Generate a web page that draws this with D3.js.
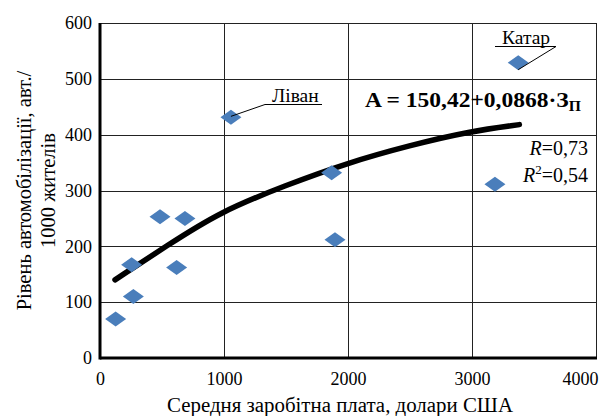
<!DOCTYPE html>
<html>
<head>
<meta charset="utf-8">
<script src="https://cdnjs.cloudflare.com/ajax/libs/d3/7.8.5/d3.min.js"></script>
<style>
  html, body { margin: 0; padding: 0; background: #fff; }
  svg { display: block; }
</style>
</head>
<body>
<svg id="chart" width="604" height="416"></svg>
<script>
// Average salary (USD) vs. cars per 1000 inhabitants
const salary  = [126, 269, 255, 484, 685, 618, 1056, 1868, 1895, 3185, 3373];
const carRate = [70, 110, 167, 253, 250, 162, 431, 332, 212, 311, 529];

// Named points
const namedPoints = [
  { name: "Ліван", idx: 6 },
  { name: "Катар", idx: 10 }
];

// Trend curve samples
const trendX = [121, 538, 968, 1505, 1989, 2500, 2984, 3382];
const trendY = [140, 201, 262, 310, 349, 381, 406, 418];

const xTicks = [0, 1000, 2000, 3000, 4000];
const yTicks = [0, 100, 200, 300, 400, 500, 600];

const xTitle = "Середня заробітна плата, долари США";
const yTitle = ["Рівень автомобілізації, авт./", "1000 жителів"];
const equationMain = "A = 150,42+0,0868·З";
const equationSub = "П";
const rText = "0,73";
const r2Text = "0,54";

const FONT = "'Liberation Serif', 'Times New Roman', serif";

const svg = d3.select("#chart");
const W = 604, H = 416;
const plot = { left: 100, right: 596, top: 23, bottom: 358 };

const x = d3.scaleLinear().domain([0, 4000]).range([plot.left, plot.right]);
const y = d3.scaleLinear().domain([0, 600]).range([plot.bottom, plot.top]);

svg.append("rect").attr("width", W).attr("height", H).attr("fill", "#fff");

// Gridlines
const grid = svg.append("g").attr("stroke", "#222").attr("stroke-width", 1);
grid.selectAll("line.h").data(yTicks.filter(d => d > 0)).join("line")
  .attr("x1", plot.left).attr("x2", plot.right)
  .attr("y1", d => Math.round(y(d)) + 0.5).attr("y2", d => Math.round(y(d)) + 0.5);
grid.selectAll("line.v").data(xTicks.filter(d => d > 0)).join("line")
  .attr("y1", plot.top).attr("y2", plot.bottom)
  .attr("x1", d => Math.round(x(d)) + 0.5).attr("x2", d => Math.round(x(d)) + 0.5);

// Axes (thick lines at left and bottom)
const xAxis = d3.axisBottom(x).tickValues(xTicks).tickSize(0).tickPadding(14).tickFormat(d3.format("d"));
const yAxis = d3.axisLeft(y).tickValues(yTicks).tickSize(0).tickPadding(8).tickFormat(d3.format("d"));

const gx = svg.append("g").attr("transform", `translate(0,${plot.bottom})`).call(xAxis);
const gy = svg.append("g").attr("transform", `translate(${plot.left},0)`).call(yAxis);
[gx, gy].forEach(g => {
  g.attr("font-family", FONT).attr("font-size", 18);
  g.select(".domain").remove();
  g.selectAll("text").attr("fill", "#000");
});
// last x label kept inside the chart edge
gx.selectAll(".tick text").filter(d => d === 4000).attr("text-anchor", "end").attr("x", 2);

svg.append("line").attr("x1", plot.left).attr("x2", plot.right + 1)
  .attr("y1", plot.bottom).attr("y2", plot.bottom)
  .attr("stroke", "#000").attr("stroke-width", 3);
svg.append("line").attr("x1", plot.left).attr("x2", plot.left)
  .attr("y1", plot.top).attr("y2", plot.bottom + 1.5)
  .attr("stroke", "#000").attr("stroke-width", 3);

// Trend curve
const trend = d3.line()
  .x((d, i) => x(trendX[i]))
  .y(d => y(d))
  .curve(d3.curveBasis);
svg.append("path").datum(trendY)
  .attr("d", trend)
  .attr("fill", "none").attr("stroke", "#000")
  .attr("stroke-width", 5.5).attr("stroke-linecap", "round");

// Diamond markers
const dw = 10.5, dh = 7.5;
const diamond = `M0,${-dh}L${dw},0L0,${dh}L${-dw},0Z`;
svg.append("g").selectAll("path").data(salary).join("path")
  .attr("d", diamond)
  .attr("transform", (d, i) => `translate(${x(d)},${y(carRate[i])})`)
  .attr("fill", "#4A7EBB");

const txt = (sel) => sel.attr("font-family", FONT).attr("fill", "#000");

// Point labels with leader lines
const lib = namedPoints[0], qat = namedPoints[1];
const libX = x(salary[lib.idx]), libY = y(carRate[lib.idx]);
svg.append("path").attr("d", `M${libX},${libY - 1}L265,104.5L322,104.5`)
  .attr("fill", "none").attr("stroke", "#000").attr("stroke-width", 1);
svg.append("text").call(txt).attr("x", 272).attr("y", 102).attr("font-size", 19.5).text(lib.name);

const qX = x(salary[qat.idx]), qY = y(carRate[qat.idx]);
svg.append("path").attr("d", `M${qX},${qY + 7}L556,46.5L495,46.5`)
  .attr("fill", "none").attr("stroke", "#000").attr("stroke-width", 1);
svg.append("text").call(txt).attr("x", 502).attr("y", 44).attr("font-size", 19.5).text(qat.name);

// Regression equation
const eq = svg.append("text").call(txt)
  .attr("transform", "translate(365,107) scale(1.12,1)")
  .attr("font-size", 21).attr("font-weight", "bold");
eq.append("tspan").text(equationMain);
eq.append("tspan").attr("dy", 4).attr("font-size", 14).text(equationSub);

// Correlation statistics
const r1 = svg.append("text").call(txt).attr("x", 588).attr("y", 155).attr("text-anchor", "end").attr("font-size", 20);
r1.append("tspan").attr("font-style", "italic").text("R");
r1.append("tspan").text("=" + rText);
const r2 = svg.append("text").call(txt).attr("x", 588).attr("y", 182).attr("text-anchor", "end").attr("font-size", 20);
r2.append("tspan").attr("font-style", "italic").text("R");
r2.append("tspan").attr("dy", -8).attr("font-size", 13).text("2");
r2.append("tspan").attr("dy", 8).text("=" + r2Text);

// Axis titles
svg.append("text").call(txt).attr("x", 340).attr("y", 412)
  .attr("text-anchor", "middle").attr("font-size", 20)
  .attr("textLength", 346).attr("lengthAdjust", "spacingAndGlyphs").text(xTitle);

const yt = svg.append("text").call(txt).attr("transform", `translate(31,${(plot.top + plot.bottom) / 2}) rotate(-90)`)
  .attr("text-anchor", "middle").attr("font-size", 20.5);
yt.append("tspan").attr("x", 0).attr("y", 0).text(yTitle[0]);
yt.append("tspan").attr("x", 0).attr("y", 24).text(yTitle[1]);
</script>
</body>
</html>
